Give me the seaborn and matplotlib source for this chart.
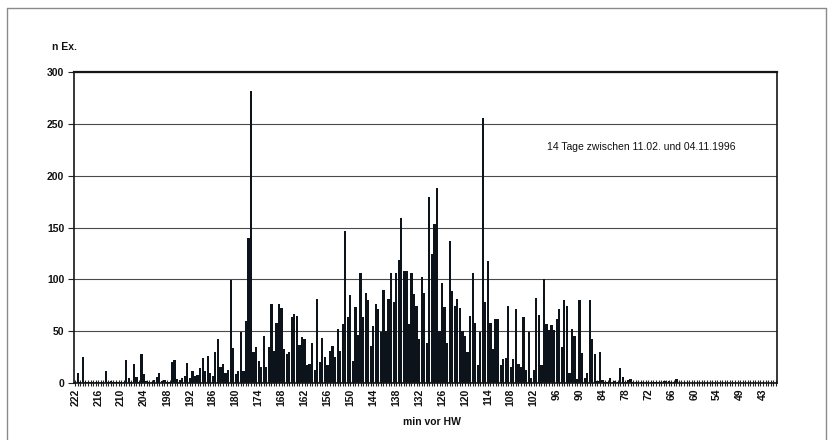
import numpy as np
import pandas as pd
import matplotlib
matplotlib.use('Agg')
import matplotlib.pyplot as plt
from matplotlib.lines import Line2D
import seaborn as sns

# counts per time step (minutes before high water, 222 -> 43)
counts = [
    1, 10, 1, 25, 1, 1, 1, 1, 1, 1,
    1, 1, 12, 1, 2, 1, 1, 1, 1, 1,
    22, 5, 1, 18, 6, 1, 28, 9, 2, 1,
    1, 3, 6, 10, 2, 3, 1, 1, 20, 22,
    4, 3, 5, 7, 19, 5, 12, 7, 8, 14,
    24, 12, 26, 10, 7, 30, 42, 15, 18, 10,
    13, 99, 34, 9, 12, 49, 12, 60, 140, 282,
    30, 35, 21, 15, 45, 15, 35, 76, 31, 58,
    76, 72, 33, 28, 30, 64, 67, 65, 37, 44,
    42, 17, 18, 39, 13, 81, 20, 43, 25, 17,
    31, 36, 25, 52, 31, 57, 147, 64, 85, 21,
    73, 46, 106, 64, 87, 80, 36, 55, 76, 71,
    49, 90, 50, 81, 106, 78, 106, 119, 159, 108,
    108, 57, 106, 86, 74, 42, 102, 87, 39, 179,
    124, 153, 188, 50, 96, 73, 39, 137, 89, 74,
    81, 72, 50, 45, 30, 65, 106, 58, 17, 49,
    256, 78, 118, 58, 33, 62, 62, 17, 23, 24,
    74, 15, 23, 71, 18, 15, 64, 13, 49, 5,
    13, 82, 66, 17, 100, 57, 51, 56, 51, 62,
    71, 35, 80, 74, 10, 52, 45, 4, 80, 29,
    5, 10, 80, 42, 28, 2, 30, 3, 1, 1,
    5, 1, 2, 1, 14, 6, 1, 3, 4, 1,
    1, 1, 1, 1, 1, 1, 1, 1, 1, 1,
    1, 2, 2, 2, 1, 1, 4, 0, 0, 0,
    0, 0, 0, 0, 0, 0, 0, 0, 0, 0,
    0, 0, 0, 0, 0, 0, 0, 0, 0, 0,
    0, 0, 0, 0, 0, 0, 0, 0, 0, 0,
    0, 0, 0, 0, 0, 0,
]
tick_labels = ['222', '216', '210', '204', '198', '192', '186', '180', '174',
               '168', '162', '156', '150', '144', '138', '132', '126', '120',
               '114', '108', '102', '96', '90', '84', '78', '72', '66', '60',
               '54', '49', '43']
label_step = 9
y_ticks = [0, 50, 100, 150, 200, 250, 300]
y_label = 'n Ex.'
x_label = 'min vor HW'
note = '14 Tage zwischen 11.02. und 04.11.1996'

sns.set_theme(style='white')
plt.rcParams['font.family'] = ['Liberation Sans', 'DejaVu Sans']

W, H = 833, 440
fig = plt.figure(figsize=(W / 100, H / 100), dpi=100)
L, R, T, B = 74, 777, 72, 383
ax = fig.add_axes([L / W, 1 - B / H, (R - L) / W, (B - T) / H])

df = pd.DataFrame({'step': np.arange(len(counts)), 'n': counts})
bar_color = '#0c131b'
sns.barplot(data=df, x='step', y='n', color=bar_color, saturation=1,
            width=0.88, edgecolor='none', linewidth=0, ax=ax)

ax.set_xlim(-0.5, len(counts) - 0.5)
ax.set_ylim(0, 300)
ax.set_yticks(y_ticks)
ax.set_yticklabels([str(v) for v in y_ticks], fontsize=7.5, fontweight='bold',
                   color='#111')
ax.yaxis.grid(True, color='#4a4a4a', lw=0.8)
ax.xaxis.grid(False)
ax.set_axisbelow(True)

major_pos = list(range(0, len(tick_labels) * label_step, label_step))
ax.set_xticks(major_pos)
ax.set_xticklabels(tick_labels, rotation=90, fontsize=7.5, fontweight='bold',
                   color='#111')
ax.set_xticks(np.arange(len(counts)), minor=True)
ax.tick_params(axis='x', which='both', direction='inout', length=4,
               width=0.8, color='#222', bottom=True, pad=2)
ax.tick_params(axis='y', direction='out', length=4, width=0.8, color='#222',
               left=True, pad=3)
ax.set_xlabel('')
ax.set_ylabel('')

for side, sp in ax.spines.items():
    sp.set_visible(True)
    sp.set_color('#151515')
    sp.set_linewidth(1.2)
ax.spines['top'].set_linewidth(1.6)

fig.text(52 / W, 1 - 47 / H, y_label, fontsize=7.5, fontweight='bold',
         ha='left', va='center', color='#111')
fig.text(432 / W, 1 - 422 / H, x_label, fontsize=7.5, fontweight='bold',
         ha='center', va='center', color='#111')
ax.text((547 - L) / (R - L), (B - 147) / (B - T), note, transform=ax.transAxes,
        fontsize=7.5, ha='left', va='center', color='#111')

# chart-area frame
frame_c = '#8a8a8a'
fig.add_artist(Line2D([7 / W, 826 / W], [1 - 8 / H, 1 - 8 / H], color=frame_c, lw=1.0))
fig.add_artist(Line2D([7 / W, 7 / W], [0, 1 - 8 / H], color=frame_c, lw=1.0))
fig.add_artist(Line2D([826 / W, 826 / W], [0, 1 - 8 / H], color=frame_c, lw=1.0))

fig.savefig('out.png', dpi=100, facecolor='white')
